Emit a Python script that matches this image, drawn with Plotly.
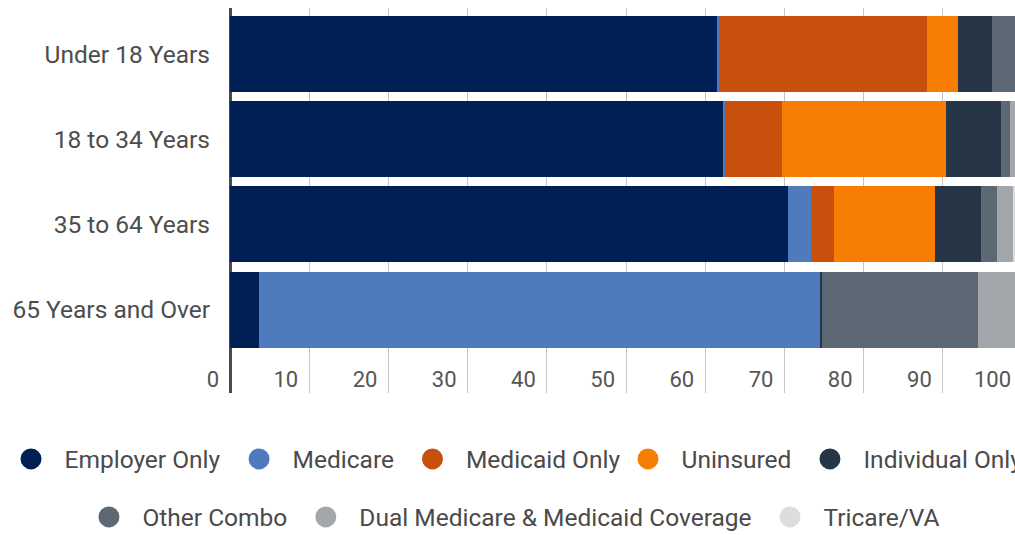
import plotly.graph_objects as go

# ---- data (percent of age group) ----
categories = ["Under 18 Years", "18 to 34 Years", "35 to 64 Years", "65 Years and Over"]
series_names = ["Employer Only", "Medicare", "Medicaid Only", "Uninsured",
                "Individual Only", "Other Combo", "Dual Medicare & Medicaid Coverage", "Tricare/VA"]
employer_only = [61.5, 62.3, 70.4, 3.6]
medicare = [0.3, 0.2, 2.9, 70.9]
medicaid_only = [26.2, 7.2, 2.9, 0.0]
uninsured = [3.9, 20.7, 12.8, 0.0]
individual_only = [4.3, 7.0, 5.8, 0.3]
other_combo = [3.0, 1.1, 2.0, 19.7]
dual_medicare_medicaid = [0.4, 0.7, 2.1, 4.7]
tricare_va = [0.4, 0.8, 1.1, 0.8]
tick_values = [0, 10, 20, 30, 40, 50, 60, 70, 80, 90, 100]
tick_labels = ["0", "10", "20", "30", "40", "50", "60", "70", "80", "90", "100"]

series_values = [employer_only, medicare, medicaid_only, uninsured,
                 individual_only, other_combo, dual_medicare_medicaid, tricare_va]
colors = ["#001F54", "#4F7ABD", "#C94F0C", "#F77D05",
          "#263646", "#5C6874", "#A3A7AB", "#DCDDDF"]
# legend rows: first row split in two groups so it never wraps
legend_of = ["legend", "legend", "legend", "legend3", "legend3",
             "legend2", "legend2", "legend2"]

FONT = "Roboto"
LEG_FONT = dict(size=24.5, color="#4a4a4a", family=FONT)
fig = go.Figure()
for name, vals, col in zip(series_names, series_values, colors):
    fig.add_trace(go.Bar(
        y=categories, x=vals, name=name, orientation="h",
        marker=dict(color=col, line=dict(width=0)), showlegend=False,
    ))
for name, col, lg in zip(series_names, colors, legend_of):
    fig.add_trace(go.Scatter(
        x=[None], y=[None], mode="markers", name=name, legend=lg,
        marker=dict(symbol="circle", size=16, color=col, line=dict(width=5, color=col)),
        showlegend=True,
    ))

W, H = 1036, 535
common_leg = dict(orientation="h", traceorder="normal", xref="paper", yref="paper",
                  xanchor="left", yanchor="middle", itemwidth=57,
                  font=LEG_FONT, bgcolor="rgba(0,0,0,0)")
fig.update_layout(
    width=W, height=H,
    margin=dict(l=206, r=14, t=8, b=142, pad=0, autoexpand=False),
    barmode="stack", bargap=0.108,
    plot_bgcolor="white", paper_bgcolor="white",
    font=dict(family=FONT, color="#4d4d4d"),
    xaxis=dict(
        range=[-3.03, 100], tickvals=tick_values, ticktext=tick_labels,
        showgrid=True, gridcolor="#c4c4c4", gridwidth=1,
        zeroline=True, zerolinecolor="#4a4a4a", zerolinewidth=3,
        showline=False, ticks="", ticklabelposition="inside left",
        ticklabelshift=-11, ticklabelstandoff=-4,
        tickfont=dict(size=22, color="#555555", family=FONT),
    ),
    yaxis=dict(
        type="category", categoryorder="array", categoryarray=categories,
        range=[3.978, -0.54], showgrid=False, zeroline=False, showline=False,
        ticks="", ticklabelstandoff=-5,
        tickfont=dict(size=24.5, color="#4d4d4d", family=FONT),
    ),
    legend=dict(common_leg, x=-0.2555, y=-0.1714),
    legend3=dict(common_leg, x=0.5006, y=-0.1714),
    legend2=dict(common_leg, x=-0.16, y=-0.322),
)

fig.write_html(
    "out.html",
    config={"displayModeBar": False},
    post_script="document.body.style.margin='0';document.body.style.overflow='hidden';",
)
